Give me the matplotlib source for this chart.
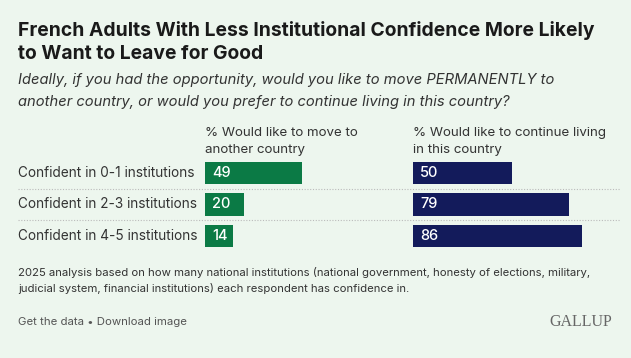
import matplotlib
matplotlib.use("Agg")
import matplotlib.pyplot as plt

# data
groups = ["Confident in 0-1 institutions",
          "Confident in 2-3 institutions",
          "Confident in 4-5 institutions"]
move_abroad = [49, 20, 14]
stay_home = [50, 79, 86]

BG = "#EDF6EE"
GREEN = "#0B7A45"
NAVY = "#131B5B"
INK = "#1A1A1A"
GREY = "#555555"

W, H = 631, 358
fig = plt.figure(figsize=(W / 100, H / 100), dpi=100)
fig.patch.set_facecolor(BG)
plt.rcParams["font.family"] = ["Inter", "DejaVu Sans"]


def px(x, y):
    """pixel coords (top-left origin) -> figure fraction"""
    return x / W, 1 - y / H


def put(x, y, s, **kw):
    fig.text(*px(x, y), s, va="center", ha="left", **kw)


# title + subtitle
put(18, 30, "French Adults With Less Institutional Confidence More Likely",
    fontsize=13.9, fontweight="bold", color=INK)
put(18, 54, "to Want to Leave for Good", fontsize=13.9, fontweight="bold", color=INK)
put(18, 80, "Ideally, if you had the opportunity, would you like to move PERMANENTLY to",
    fontsize=10.6, style="italic", color="#333333")
put(18, 102, "another country, or would you prefer to continue living in this country?",
    fontsize=10.6, style="italic", color="#333333")

# column headers
put(205, 133, "% Would like to move to", fontsize=9.6, color="#333333")
put(205, 150, "another country", fontsize=9.6, color="#333333")
put(413, 133, "% Would like to continue living", fontsize=9.6, color="#333333")
put(413, 150, "in this country", fontsize=9.6, color="#333333")

# bar panels
row_gap = 31.5
top = 173 - row_gap / 2
bottom = 236 + row_gap / 2
scale = 1.97  # px per percentage point

for x0, vals, col in [(205, move_abroad, GREEN), (413, stay_home, NAVY)]:
    l, b = px(x0, bottom)
    ax = fig.add_axes([l, b, 100 * scale / W, (bottom - top) / H])
    ax.barh(range(len(vals)), vals, height=0.7, color=col)
    for i, v in enumerate(vals):
        ax.text(3.5, i, str(v), va="center", ha="left", color="white",
                fontsize=10.5, fontweight="medium")
    ax.set_xlim(0, 100)
    ax.set_ylim(len(vals) - 0.5, -0.5)
    ax.axis("off")

# row labels and dotted separators
for i, g in enumerate(groups):
    put(18, 173 + i * row_gap, g, fontsize=9.8, color="#333333")
for i in range(len(groups) - 1):
    y = 173 + (i + 0.5) * row_gap
    fig.add_artist(plt.Line2D([18 / W, 620 / W], [1 - y / H] * 2,
                              color="#BBBBBB", lw=0.8, ls=(0, (1, 1.5))))

# footnote + footer
put(18, 272, "2025 analysis based on how many national institutions (national government, honesty of elections, military,",
    fontsize=8.15, color="#333333")
put(18, 289, "judicial system, financial institutions) each respondent has confidence in.",
    fontsize=8.15, color="#333333")
put(18, 322, "Get the data \u2022 Download image", fontsize=8.2, color=GREY)
fig.text(*px(612, 322), "GALLUP", ha="right", va="center", fontsize=11.5,
         family="Liberation Serif", color="#666666")

fig.savefig("out.png", dpi=100, facecolor=BG)
